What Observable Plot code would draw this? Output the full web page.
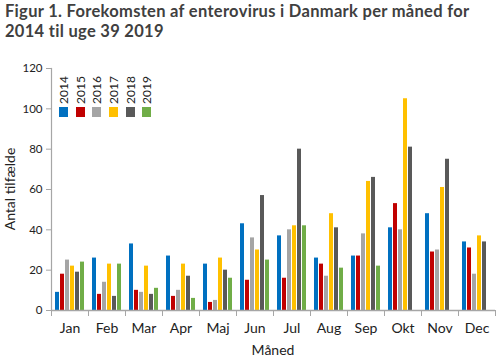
<!DOCTYPE html>
<html><head><meta charset="utf-8">
<script src="https://cdn.jsdelivr.net/npm/d3@7"></script>
<script src="https://cdn.jsdelivr.net/npm/@observablehq/plot@0.6"></script>
<style>
body{margin:0;background:#fff;font-family:Lato,sans-serif;}
#wrap{position:relative;width:500px;height:360px;overflow:hidden;}
#title{position:absolute;left:5px;top:2px;font-weight:bold;font-size:16.5px;letter-spacing:0.3px;line-height:19.5px;color:#404040;white-space:nowrap;}
#chart{position:absolute;left:0;top:45px;}
#legend{position:absolute;left:55px;top:76px;display:flex;}
.item{width:16.7px;display:flex;flex-direction:column;align-items:center;}
.item .t{writing-mode:vertical-rl;transform:rotate(180deg);font-size:12px;line-height:13px;height:28px;color:#222;text-align:left;}
.item .s{width:9px;height:10px;margin-top:3px;}
#ylab{position:absolute;left:9px;top:189px;transform:translate(-50%,-50%) rotate(-90deg);font-size:14px;color:#222;white-space:nowrap;}
#xlab{position:absolute;left:273px;top:349px;transform:translate(-50%,-50%);font-size:14px;color:#222;white-space:nowrap;}
</style></head><body>
<div id="wrap">
<div id="title">Figur 1. Forekomsten af enterovirus i Danmark per måned for<br>2014 til uge 39 2019</div>
<div id="chart"></div>
<div id="legend"></div>
<div id="ylab">Antal tilfælde</div>
<div id="xlab">Måned</div>
</div>
<script>
const months = ["Jan","Feb","Mar","Apr","Maj","Jun","Jul","Aug","Sep","Okt","Nov","Dec"];
const years = ["2014","2015","2016","2017","2018","2019"];
const colors = ["#0070C0","#C00000","#A5A5A5","#FFC000","#595959","#70AD47"];
const v2014 = [9,26,33,27,23,43,37,26,27,41,48,34];
const v2015 = [18,8,10,7,4,15,16,23,27,53,29,31];
const v2016 = [25,14,9,10,5,36,40,17,38,40,30,18];
const v2017 = [22,23,22,23,26,30,42,48,64,105,61,37];
const v2018 = [19,7,8,17,20,57,80,41,66,81,75,34];
const v2019 = [24,23,11,6,16,25,42,21,22,null,null,null];
const yTicks = [0,20,40,60,80,100,120];

const series = [v2014,v2015,v2016,v2017,v2018,v2019];
const rows = [];
months.forEach((m,i) => years.forEach((y,j) => {
  const v = series[j][i];
  if (v != null) rows.push({month:m, year:y, value:v});
}));

const gray = "#A6A6A6";
const H = 315, MT = 23, MB = 50;
const chart = Plot.plot({
  width: 500, height: H,
  marginTop: MT, marginBottom: MB, marginLeft: 51, marginRight: 5,
  style: {fontFamily: "Lato, sans-serif", background: "transparent"},
  fx: {domain: months, padding: 0},
  x: {domain: years, paddingInner: 0.2, paddingOuter: 0.8, axis: null},
  y: {domain: [0,120]},
  color: {domain: years, range: colors},
  marks: [
    Plot.barY(rows, {fx: "month", x: "year", y: "value", fill: "year"}),
    Plot.ruleY([0], {stroke: gray, strokeWidth: 1.5}),
    Plot.frame({anchor: "left", stroke: gray, insetTop: H - MT - MB, insetBottom: -5}),
    Plot.frame({anchor: "right", stroke: gray, insetTop: H - MT - MB, insetBottom: -5}),
    Plot.frame({anchor: "left", stroke: gray, facetAnchor: "left", strokeWidth: 1.2}),
    Plot.axisY({ticks: yTicks, tickSize: 5, tickPadding: 4, fontSize: 11.5, stroke: gray, fill: "#222", label: null}),
    Plot.axisFx({anchor: "bottom", tickSize: 0, tickPadding: 13, fontSize: 14, fill: "#222", label: null})
  ]
});
document.getElementById("chart").appendChild(chart);

const leg = document.getElementById("legend");
years.forEach((y,j) => {
  const it = document.createElement("div"); it.className = "item";
  const t = document.createElement("span"); t.className = "t"; t.textContent = y;
  const s = document.createElement("span"); s.className = "s"; s.style.background = colors[j];
  it.appendChild(t); it.appendChild(s); leg.appendChild(it);
});
</script>
</body></html>
